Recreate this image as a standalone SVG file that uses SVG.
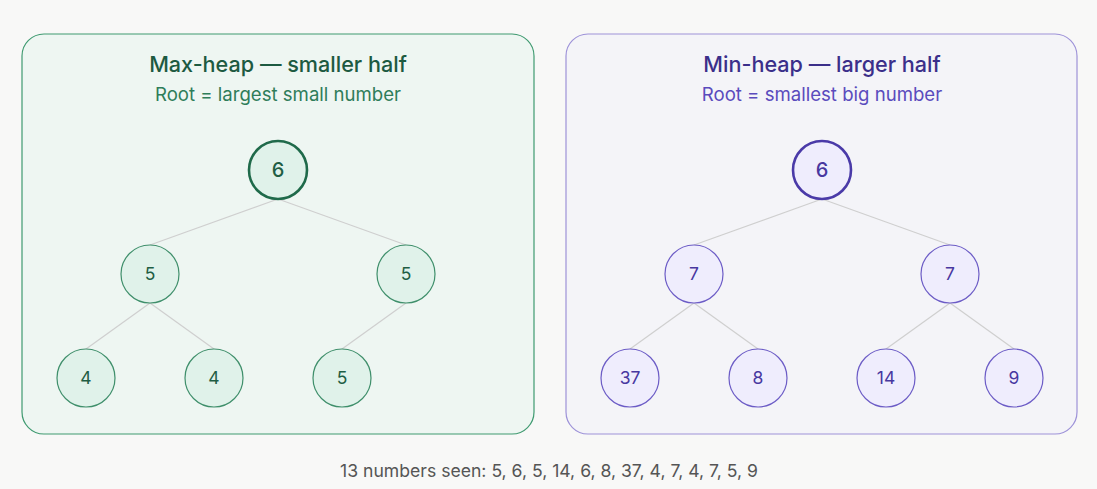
<svg xmlns="http://www.w3.org/2000/svg" width="1097" height="489" viewBox="0 0 1097 489">
<style>
text{font-family:Inter,"Open Sans","Liberation Sans",sans-serif;text-anchor:middle}
.title{font-size:21.6px;font-weight:500}
.sub{font-size:18.6px}
.edge{stroke:#cfcfcf;stroke-width:1.2;fill:none}
.gn{fill:#e0f2ea;stroke:#3f8f6b;stroke-width:1.2}
.groot{fill:#e0f2ea;stroke:#1f6a4a;stroke-width:2.6}
.gt{fill:#1f5e44;font-size:17.5px}
.pn{fill:#efedfd;stroke:#6c5cc6;stroke-width:1.2}
.proot{fill:#efedfd;stroke:#4a3aa8;stroke-width:2.6}
.pt{fill:#4838a0;font-size:17.5px}
.rt{font-size:20px;font-weight:500}
</style>
<rect width="1097" height="489" fill="#f8f8f7"/>
<g id="panel-max">
<rect x="22" y="34" width="512" height="400" rx="22" fill="#eef6f2" stroke="#3f9a70" stroke-width="1.2"/>
<text class="title" x="278" y="72" fill="#1d5a41">Max-heap — smaller half</text>
<text class="sub" x="278" y="101" fill="#2f7d5a">Root = largest small number</text>
</g>
<g id="panel-min">
<rect x="566" y="34" width="511" height="400" rx="22" fill="#f4f4f8" stroke="#9d92d8" stroke-width="1.2"/>
<text class="title" x="822" y="72" fill="#3b2f8a">Min-heap — larger half</text>
<text class="sub" x="822" y="101" fill="#5a4bbd">Root = smallest big number</text>
</g>
<g id="connectors">
<line class="edge" x1="278" y1="199" x2="150" y2="245"/>
<line class="edge" x1="278" y1="199" x2="406" y2="245"/>
<line class="edge" x1="150" y1="303" x2="86" y2="349"/>
<line class="edge" x1="150" y1="303" x2="214" y2="349"/>
<line class="edge" x1="406" y1="303" x2="342" y2="349"/>
<line class="edge" x1="822" y1="199" x2="694" y2="245"/>
<line class="edge" x1="822" y1="199" x2="950" y2="245"/>
<line class="edge" x1="694" y1="303" x2="630" y2="349"/>
<line class="edge" x1="694" y1="303" x2="758" y2="349"/>
<line class="edge" x1="950" y1="303" x2="886" y2="349"/>
<line class="edge" x1="950" y1="303" x2="1014" y2="349"/>
</g>
<g id="max-root"><circle class="groot" cx="278" cy="170" r="29"/><text class="gt rt" x="278" y="177">6</text></g>
<g id="max-l"><circle class="gn" cx="150" cy="274" r="29"/><text class="gt" x="150" y="280">5</text></g>
<g id="max-r"><circle class="gn" cx="406" cy="274" r="29"/><text class="gt" x="406" y="280">5</text></g>
<g id="max-ll"><circle class="gn" cx="86" cy="378" r="29"/><text class="gt" x="86" y="384">4</text></g>
<g id="max-lr"><circle class="gn" cx="214" cy="378" r="29"/><text class="gt" x="214" y="384">4</text></g>
<g id="max-rl"><circle class="gn" cx="342" cy="378" r="29"/><text class="gt" x="342" y="384">5</text></g>
<g id="min-root"><circle class="proot" cx="822" cy="170" r="29"/><text class="pt rt" x="822" y="177">6</text></g>
<g id="min-l"><circle class="pn" cx="694" cy="274" r="29"/><text class="pt" x="694" y="280">7</text></g>
<g id="min-r"><circle class="pn" cx="950" cy="274" r="29"/><text class="pt" x="950" y="280">7</text></g>
<g id="min-ll"><circle class="pn" cx="630" cy="378" r="29"/><text class="pt" x="630" y="384">37</text></g>
<g id="min-lr"><circle class="pn" cx="758" cy="378" r="29"/><text class="pt" x="758" y="384">8</text></g>
<g id="min-rl"><circle class="pn" cx="886" cy="378" r="29"/><text class="pt" x="886" y="384">14</text></g>
<g id="min-rr"><circle class="pn" cx="1014" cy="378" r="29"/><text class="pt" x="1014" y="384">9</text></g>
<g id="caption"><text x="549" y="477" font-size="17.6" fill="#555555">13 numbers seen: 5, 6, 5, 14, 6, 8, 37, 4, 7, 4, 7, 5, 9</text></g>
</svg>
